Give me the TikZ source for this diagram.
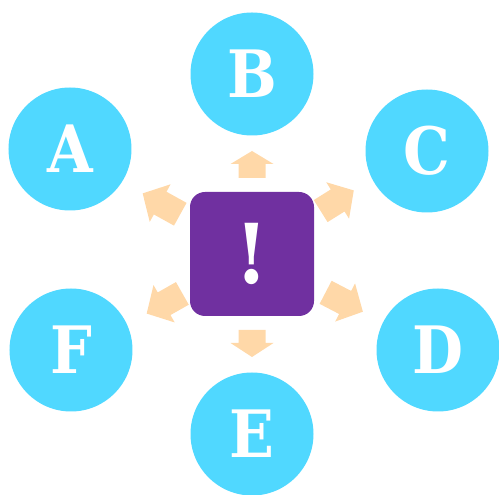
\documentclass[tikz,border=0pt]{standalone}
\usepackage{fontspec}
\newfontfamily\leaffont[FakeStretch=0.9]{DejaVu Serif}
\usetikzlibrary{positioning}
\definecolor{leafcyan}{HTML}{50D8FF}
\definecolor{hubpurple}{HTML}{7030A0}
\definecolor{spokepeach}{HTML}{FFD8A8}

\begin{document}
\begin{tikzpicture}[x=0.75pt,y=0.75pt,
  leaf/.style={circle,fill=leafcyan,minimum size=92.25pt,inner sep=0pt,text=white,
    font=\leaffont\bfseries\fontsize{49}{49}\selectfont},
  hub/.style={rectangle,rounded corners=11.25pt,fill=hubpurple,minimum size=93pt,inner sep=0pt,text=white,
    font=\leaffont\bfseries\fontsize{62}{62}\selectfont},
  spoke/.style={fill=spokepeach}]
\useasboundingbox (-252,-241) rectangle (247,254);

% centre block and the six letters round it
\node[hub] (hub) at (0,0) {!};
\node[leaf] (B) at (0,180) {B};
\node[leaf] (C) at (175,103) {C};
\node[leaf] (D) at (186,-96) {D};
\node[leaf] (E) at (0,-180) {E};
\node[leaf] (F) at (-181,-96) {F};
\node[leaf] (A) at (-182,105) {A};

% block arrows: angle / start / length / head length / shaft width
\foreach \ang/\base/\len/\hd/\sw in {90/76/27/13/27, -90/76/27/14/27, 151/82/43/20/26,
    32/81/39/19/26, 209.5/80/41/20/26, -27.5/83/42/20/26}
  \fill[spoke,rotate=\ang] (\base,-\sw/2) -- (\base+\len-\hd,-\sw/2) -- (\base+\len-\hd,-21.5)
    -- (\base+\len,0) -- (\base+\len-\hd,21.5) -- (\base+\len-\hd,\sw/2) -- (\base,\sw/2) -- cycle;
\end{tikzpicture}
\end{document}
